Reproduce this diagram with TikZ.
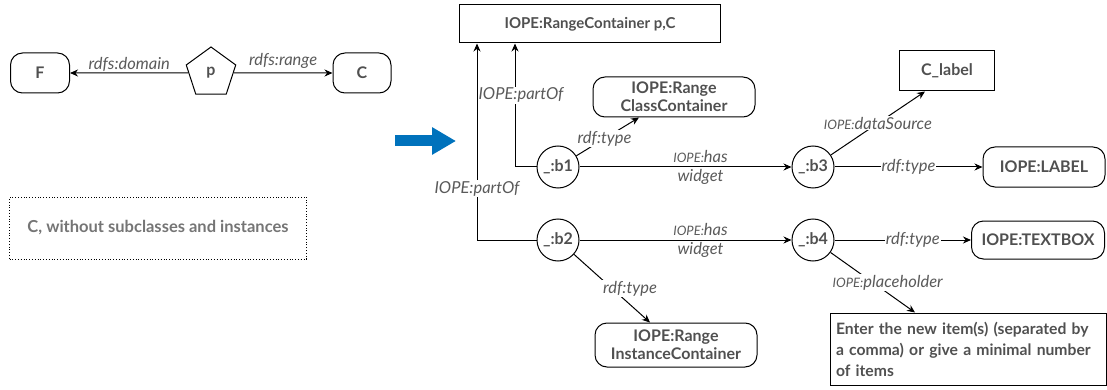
\documentclass[tikz,border=0pt]{standalone}
\usepackage{fontspec}
\setmainfont{Lato}
\usepackage{tikz}
\usepackage{xcolor}
\usetikzlibrary{positioning,shapes.geometric,arrows.meta}

\definecolor{txtgray}{HTML}{505050}
\definecolor{lblgray}{HTML}{5A5A5A}
\definecolor{notegray}{HTML}{757575}
\definecolor{arrowblue}{HTML}{0072BC}
\newcommand{\nodefont}{\fontsize{16}{18}\selectfont\bfseries}
\newcommand{\lblfont}{\fontsize{16.5}{19}\selectfont\itshape}
\newcommand{\pfx}[1]{{\fontsize{13}{15}\selectfont #1}}

\begin{document}
\begin{tikzpicture}[x=1pt,y=-1pt,on grid,
    >={Stealth[length=8pt,width=7pt]},
    every node/.style={text=txtgray,font=\nodefont},
    every edge/.style={draw,line width=1pt},
    box/.style={draw,line width=1pt,minimum height=40pt,inner sep=2pt,align=center},
    term/.style={box,rounded corners=12pt},
    blank/.style={draw,circle,line width=1pt,minimum size=42pt,inner sep=0pt},
    lbl/.style={font=\lblfont,text=lblgray,fill=white,inner sep=1pt,align=center}]
   \useasboundingbox (0,0) rectangle (1107,390);

   % before: the property with its domain and range
   \node[draw,regular polygon,regular polygon sides=5,minimum size=52pt,inner sep=0pt,line width=1pt] (p) at (211,73) {p};
   \node[term,minimum width=59pt] (F) [left=171pt of p] {F};
   \node[term,minimum width=58pt] (C) [right=151pt of p] {C};
   \path[->]
    (p) edge node[lbl,fill=none,above] {rdfs:domain} (F)
        edge node[lbl,fill=none,above,yshift=3pt] {rdfs:range} (C);
   \node[draw,dotted,line width=0.8pt,minimum width=297pt,minimum height=62pt,text=notegray,font=\fontsize{16.5}{19}\selectfont\bfseries] (note) at (158,228) {C, without subclasses and instances};

   \draw[arrowblue,line width=11pt,-{Triangle[length=24pt,width=26pt]}] (395,141) -- (456,141);

   % after: the generated containers and widgets
   \node[box,minimum width=261pt,minimum height=38pt,font=\fontsize{15}{18}\selectfont\bfseries] (RC) at (590,24) {IOPE:RangeContainer p,C};
   \node[blank] (b1) at (558,167) {\_:b1};
   \node[blank] (b2) [below=73pt of b1] {\_:b2};
   \node[blank] (b3) [right=255pt of b1] {\_:b3};
   \node[blank] (b4) [right=255pt of b2] {\_:b4};
   \node[term,minimum width=162pt] (CC) at (674,97) {IOPE:Range\\ClassContainer};
   \node[box,minimum width=95pt] (CL) at (947,71) {C\_label};
   \node[term,minimum width=122pt] (LBL) [right=231pt of b3] {IOPE:LABEL};
   \node[term,minimum width=133pt,minimum height=38pt] (TB) [right=225pt of b4] {IOPE:TEXTBOX};
   \node[term,minimum width=162pt,minimum height=44pt] (IC) at (676,345) {IOPE:Range\\InstanceContainer};
   \node[box,minimum width=276pt,minimum height=72pt,text width=264pt,align=left,font=\fontsize{15.7}{21}\selectfont\bfseries] (PH) at (968,349)
     {Enter the new item(s) (separated by\\a comma) or give a minimal number\\of items};

   \path[->]
    (b1) edge node[lbl,pos=0.45] {rdf:type} ([xshift=-35pt]CC.south)
         edge node[lbl,fill=none,xshift=15pt] {\pfx{IOPE:}has\\widget} (b3)
    (b2) edge node[lbl,xshift=18pt] {rdf:type} ([xshift=-26pt]IC.north)
         edge node[lbl,fill=none,xshift=15pt] {\pfx{IOPE:}has\\widget} (b4)
    (b3) edge node[lbl] {\pfx{IOPE:}dataSource} ([xshift=-22pt]CL.south)
         edge node[lbl] {rdf:type} (LBL)
    (b4) edge node[lbl,xshift=10pt] {rdf:type} (TB)
         edge node[lbl,xshift=15pt] {\pfx{IOPE:}placeholder} ([xshift=-53pt]PH.north);
   \draw[->,line width=1pt] (b1) -| node[lbl,pos=0.79,xshift=6pt] {IOPE:partOf} ([xshift=-75pt]RC.south);
   \draw[->,line width=1pt] (b2) -| node[lbl,pos=0.63] {IOPE:partOf} ([xshift=-113pt]RC.south);
\end{tikzpicture}
\end{document}
